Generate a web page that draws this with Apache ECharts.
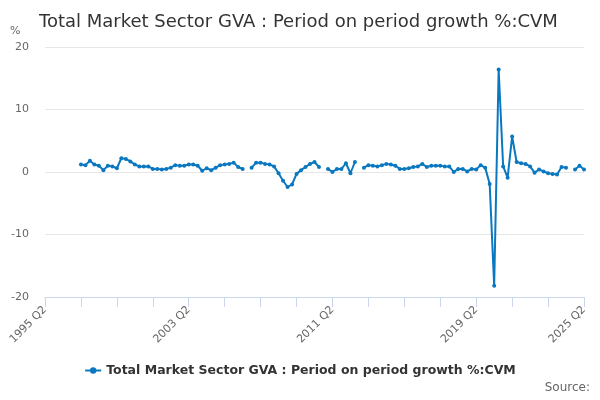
<!DOCTYPE html>
<html>
<head>
<meta charset="utf-8">
<script src="https://cdn.jsdelivr.net/npm/echarts@6/dist/echarts.min.js"></script>
<style>
html,body{margin:0;padding:0;background:#fff;}
#chart{width:600px;height:400px;}
</style>
</head>
<body>
<div id="chart"></div>
<script>
// Quarterly categories 1995 Q2 .. 2025 Q2
const startYear = 1995, startQ = 2, nQuarters = 121;
const categories = [];
for (let k = 0; k < nQuarters; k++) {
  const q = (startQ - 1 + k);
  categories.push((startYear + Math.floor(q / 4)) + ' Q' + (q % 4 + 1));
}
const seriesName = 'Total Market Sector GVA : Period on period growth %:CVM';
const values = [
  null, null, null, null, null, null, null, null,
  1.2, 1.1, 1.8, 1.2, 1.0, 0.3, 1.0, 0.9, 0.6, 2.2,
  2.1, 1.7, 1.2, 0.9, 0.9, 0.9, 0.5, 0.5, 0.4, 0.5,
  0.7, 1.1, 1.0, 1.0, 1.2, 1.2, 1.0, 0.2, 0.6, 0.3,
  0.7, 1.1, 1.2, 1.3, 1.5, 0.8, 0.5, null,
  0.7, 1.5, 1.5, 1.3, 1.2, 0.9, -0.2, -1.4, -2.4, -2.0,
  -0.3, 0.3, 0.8, 1.3, 1.6, 0.8, null,
  0.5, 0.0, 0.5, 0.5, 1.4, -0.2, 1.6, null,
  0.7, 1.1, 1.0, 0.9, 1.1, 1.3, 1.2, 1.0, 0.5, 0.5,
  0.6, 0.8, 0.9, 1.3, 0.8, 1.0, 1.0, 1.0, 0.9, 0.9,
  0.0, 0.5, 0.5, 0.1, 0.5, 0.4, 1.1, 0.7, -1.9, -18.2,
  16.4, 0.9, -0.9, 5.7, 1.6, 1.4, 1.3, 0.9, -0.1, 0.4,
  0.1, -0.2, -0.3, -0.4, 0.8, 0.7, null, 0.4, 1.0, 0.4
];
const labelEvery = 32;
const tickEvery = 8;

const chart = echarts.init(document.getElementById('chart'));
chart.setOption({
  animation: false,
  backgroundColor: '#ffffff',
  title: {
    text: 'Total Market Sector GVA : Period on period growth %:CVM',
    left: 34, top: 8,
    textStyle: { fontFamily: 'DejaVu Sans', fontSize: 18, fontWeight: 'normal', color: '#333333' }
  },
  graphic: [
    { type: 'text', left: 10, top: 26, style: { text: '%', fontFamily: 'DejaVu Sans', fontSize: 11, fill: '#666666' } },
    { type: 'text', right: 10, top: 382, style: { text: 'Source:', fontFamily: 'DejaVu Sans', fontSize: 12, fill: '#666666' } }
  ],
  legend: {
    bottom: 18, left: 'center',
    itemWidth: 16, itemHeight: 8, itemGap: 5,
    textStyle: { fontFamily: 'DejaVu Sans', fontSize: 12.5, fontWeight: 'bold', color: '#333333' }
  },
  grid: { left: 45, right: 16, top: 47, bottom: 103 },
  xAxis: {
    type: 'category',
    data: categories,
    boundaryGap: false,
    axisLine: { onZero: false, lineStyle: { color: '#ccd6eb' } },
    axisTick: { length: 10, lineStyle: { color: '#ccd6eb' }, interval: function (i) { return i % tickEvery === 0; } },
    axisLabel: {
      rotate: 45, color: '#666666', fontFamily: 'DejaVu Sans', fontSize: 11, margin: 11,
      interval: function (i) { return i % labelEvery === 0 || i === nQuarters - 1; }
    },
    splitLine: { show: false }
  },
  yAxis: {
    type: 'value', min: -20, max: 20, interval: 10,
    axisLine: { show: false }, axisTick: { show: false },
    axisLabel: { color: '#666666', fontFamily: 'DejaVu Sans', fontSize: 11, margin: 16 },
    splitLine: { lineStyle: { color: '#e6e6e6' } }
  },
  series: [{
    name: seriesName,
    type: 'line',
    data: values,
    connectNulls: false,
    showSymbol: true,
    showAllSymbol: true,
    symbol: 'circle',
    symbolSize: 4,
    color: '#0a78c0',
    lineStyle: { width: 2, color: '#0a78c0' },
    itemStyle: { color: '#0a78c0' }
  }]
});
</script>
</body>
</html>
